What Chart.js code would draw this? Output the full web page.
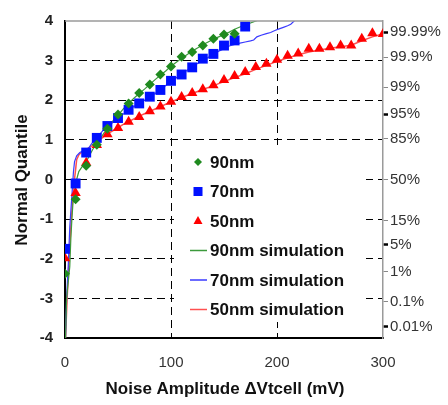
<!DOCTYPE html>
<html><head><meta charset="utf-8">
<script src="https://cdn.jsdelivr.net/npm/chart.js@4/dist/chart.umd.min.js"></script>
<style>html,body{margin:0;padding:0;background:#fff;}#wrap{width:448px;height:405px;}</style>
</head><body><div id="wrap"><canvas id="c" width="448" height="405"></canvas></div>
<script>
// ---- data ----
const x90 = [0,10,20,30,40,50,60,70,80,90,100,110,120,130,140,150,160];
const q90 = [-2.38,-0.50,0.35,0.88,1.28,1.64,1.92,2.18,2.40,2.65,2.85,3.10,3.22,3.38,3.55,3.66,3.68];
const x70 = [0,10,20,30,40,50,60,70,80,90,100,110,120,130,140,150,160,170];
const q70 = [-1.75,-0.10,0.68,1.05,1.35,1.55,1.76,1.92,2.09,2.26,2.49,2.65,2.83,3.05,3.17,3.38,3.51,3.86];
const x50 = [0,10,20,30,40,50,60,70,80,90,100,110,120,130,140,150,160,170,180,190,200,210,220,230,240,250,260,270,280,290,300];
const q50 = [-1.99,-0.34,0.42,0.87,1.14,1.30,1.46,1.58,1.72,1.84,1.96,2.08,2.18,2.28,2.38,2.51,2.61,2.71,2.84,2.92,3.02,3.12,3.18,3.30,3.30,3.34,3.38,3.38,3.55,3.69,3.67];

const simX90 = [0.5,1.5,4.5,5.5,6.5,7.5,9,11,13,16,19,22,26,30,35,40,45,50,55,60,65,70,75,80,85,90,95,100,105,110,115,120,125,130,135,140,145,150,155,160,165,170,175,182];
const simQ90 = [-4,-3,-2.2,-1.5,-1,-0.6,-0.3,0,0.2,0.32,0.4,0.55,0.75,0.92,1.1,1.3,1.47,1.62,1.78,1.92,2.05,2.17,2.28,2.4,2.52,2.63,2.74,2.86,2.96,3.06,3.15,3.24,3.32,3.4,3.47,3.54,3.6,3.66,3.72,3.79,3.85,3.9,3.95,4.02];
const simX70 = [0.5,1.5,3,4.5,6,7,8,9,11,14,18,22,25,28,32,36,40,45,50,55,60,65,70,75,80,85,90,95,100,105,110,115,120,125,130,135,140,145,150,155,160,165,170,175,178,181,185,190,194,198,202,206,210,213,217];
const simQ70 = [-4,-3,-2.2,-1.2,-0.6,-0.2,0.2,0.45,0.6,0.68,0.74,0.78,0.9,1.0,1.12,1.24,1.33,1.44,1.55,1.65,1.75,1.84,1.92,2.0,2.09,2.17,2.26,2.37,2.47,2.57,2.66,2.75,2.84,2.93,3.0,3.08,3.16,3.24,3.3,3.37,3.41,3.44,3.47,3.5,3.52,3.6,3.64,3.68,3.71,3.76,3.8,3.84,3.88,3.92,4.02];
const simX50 = [0.5,2,3.5,5.5,7,8.5,10,11,13,16,20,25,30,35,40,45,50,55,60,65,70,75,80,85,90,95,100,110,120,130,140,150,160,170,180,190,200,210,220,230,240,250,260,270,280,290,300];
const simQ50 = [-4,-3,-2.2,-1.2,-0.6,-0.1,0.25,0.5,0.62,0.7,0.76,0.84,0.95,1.05,1.15,1.23,1.31,1.39,1.46,1.53,1.6,1.66,1.72,1.78,1.84,1.9,1.96,2.07,2.17,2.27,2.37,2.47,2.57,2.67,2.78,2.88,2.98,3.07,3.15,3.22,3.27,3.31,3.35,3.39,3.5,3.6,3.68];

const xTicks = [0,100,200,300];
const rightTickValues = [3.719,3.090,2.326,1.645,1.036,0,-1.036,-1.645,-2.326,-3.090,-3.719];
const rightTickLabels = ['99.99%','99.9%','99%','95%','85%','50%','15%','5%','1%','0.1%','0.01%'];
const boldRightTicks = ['99.99%','95%','5%','0.01%'];
const seriesLabels = ['90nm','70nm','50nm','90nm simulation','70nm simulation','50nm simulation'];
const yTitle = 'Normal Quantile';
const xTitle = 'Noise Amplitude \u0394Vtcell (mV)';

// ---- build ----
const pts = (xs, ys) => xs.map((x, i) => ({x, y: ys[i]}));
const FONT = "'Liberation Sans', Arial, sans-serif";
const C90 = '#1f8a1f', C70 = '#0010ff', C50 = '#ff0000';
const L90 = '#3c9a3c', L70 = '#3a3aff', L50 = '#ff5050';

const datasets = [
  {label: seriesLabels[0], data: pts(x90, q90), showLine: false, pointStyle: 'rectRot', pointRadius: 5, backgroundColor: C90, borderColor: C90, borderWidth: 0, order: 0},
  {label: seriesLabels[1], data: pts(x70, q70), showLine: false, pointStyle: 'rect', pointRadius: 7, backgroundColor: C70, borderColor: C70, borderWidth: 0, order: 0},
  {label: seriesLabels[2], data: pts(x50, q50), showLine: false, pointStyle: 'triangle', pointRadius: 6, backgroundColor: C50, borderColor: C50, borderWidth: 0, order: 0},
  {label: seriesLabels[3], data: pts(simX90, simQ90), showLine: true, pointRadius: 0, borderColor: L90, borderWidth: 1.2, order: 1},
  {label: seriesLabels[4], data: pts(simX70, simQ70), showLine: true, pointRadius: 0, borderColor: L70, borderWidth: 1.2, order: 1},
  {label: seriesLabels[5], data: pts(simX50, simQ50), showLine: true, pointRadius: 0, borderColor: L50, borderWidth: 1.5, order: 1}
];

const overlay = {
  id: 'overlay',
  afterDatasetsDraw(chart) {
    const ctx = chart.ctx, a = chart.chartArea;
    ctx.save();
    // top border
    ctx.strokeStyle = '#9a9a9a'; ctx.lineWidth = 1.5;
    ctx.beginPath(); ctx.moveTo(a.left, a.top); ctx.lineTo(a.right, a.top); ctx.stroke();
    // legend box
    const bx = 174, by = 145, bw = 192, bh = 177;
    ctx.fillStyle = '#fff'; ctx.fillRect(bx, by, bw, bh);
    const mx = 198, tx = 210, y0 = 162, dy = 29.5;
    ctx.font = 'bold 17px ' + FONT; ctx.textBaseline = 'middle'; ctx.textAlign = 'left';
    datasets.forEach((d, i) => {
      const y = y0 + i * dy;
      if (i === 0) { ctx.fillStyle = C90; ctx.beginPath(); ctx.moveTo(mx - 4, y); ctx.lineTo(mx, y - 4); ctx.lineTo(mx + 4, y); ctx.lineTo(mx, y + 4); ctx.closePath(); ctx.fill(); }
      else if (i === 1) { ctx.fillStyle = C70; ctx.fillRect(mx - 4.5, y - 4.5, 9, 9); }
      else if (i === 2) { ctx.fillStyle = C50; ctx.beginPath(); ctx.moveTo(mx, y - 5); ctx.lineTo(mx + 4.5, y + 3); ctx.lineTo(mx - 4.5, y + 3); ctx.closePath(); ctx.fill(); }
      else { ctx.strokeStyle = d.borderColor; ctx.lineWidth = 1.5; ctx.beginPath(); ctx.moveTo(190, y); ctx.lineTo(207, y); ctx.stroke(); }
      ctx.fillStyle = '#111'; ctx.fillText(d.label, tx, y + 1);
    });
    // axis titles
    ctx.fillStyle = '#111'; ctx.font = 'bold 17px ' + FONT; ctx.textAlign = 'center'; ctx.textBaseline = 'middle';
    ctx.fillText(xTitle, 225, 389);
    ctx.translate(22, 180); ctx.rotate(-Math.PI / 2); ctx.fillText(yTitle, 0, 0);
    ctx.restore();
  }
};

new Chart(document.getElementById('c'), {
  type: 'scatter',
  data: {datasets},
  options: {
    responsive: false, animation: false, devicePixelRatio: 1,
    layout: {padding: {top: 17, left: 0, right: 0, bottom: 0}},
    plugins: {legend: {display: false}, tooltip: {enabled: false}},
    scales: {
      x: {
        type: 'linear', min: 0, max: 300,
        afterBuildTicks: s => { s.ticks = xTicks.map(v => ({value: v})); },
        afterFit: s => { s.height = 67; },
        ticks: {font: {family: FONT, size: 15}, color: '#333', padding: 16, maxRotation: 0},
        grid: {color: c => (c.tick && (c.tick.value === 100 || c.tick.value === 200)) ? '#000' : 'rgba(0,0,0,0)', lineWidth: 1, drawTicks: false},
        border: {display: true, color: '#000', width: 2, dash: [8, 5]}
      },
      y: {
        type: 'linear', min: -4, max: 4, position: 'left',
        afterFit: s => { s.width = 65; },
        ticks: {stepSize: 1, font: {family: FONT, size: 15, weight: 'bold'}, color: '#222', padding: 12},
        grid: {color: c => (c.tick && Math.abs(c.tick.value) === 4) ? 'rgba(0,0,0,0)' : '#000', lineWidth: 1, drawTicks: false},
        border: {display: true, color: '#000', width: 2, dash: [8, 5]}
      },
      y2: {
        type: 'linear', min: -4, max: 4, position: 'right',
        afterBuildTicks: s => { s.ticks = rightTickValues.map(v => ({value: v})); },
        afterFit: s => { s.width = 65; },
        ticks: {autoSkip: false, font: {family: FONT, size: 15}, color: '#333', padding: 2,
          callback: (v, i) => rightTickLabels[i]},
        grid: {drawOnChartArea: false, drawTicks: true, tickLength: 5,
          tickColor: c => boldRightTicks.includes(rightTickLabels[c.index]) ? '#000' : '#888',
          tickWidth: c => boldRightTicks.includes(rightTickLabels[c.index]) ? 2.5 : 1},
        border: {display: true, color: '#9a9a9a', width: 1.5}
      }
    }
  },
  plugins: [overlay]
});
</script>
</body></html>
